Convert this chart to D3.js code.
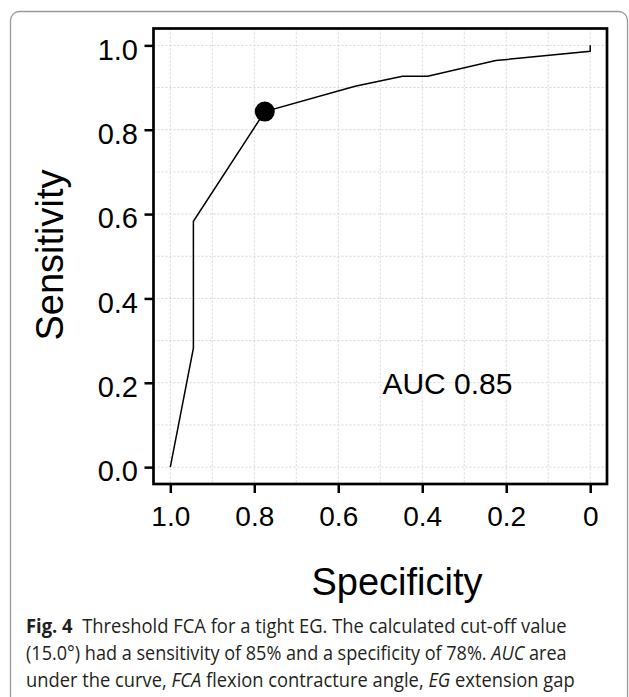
<!DOCTYPE html>
<html>
<head>
<meta charset="utf-8">
<script src="https://cdn.jsdelivr.net/npm/d3@7"></script>
<style>
  body { margin: 0; background: #fff; }
  svg { display: block; }
  .tick text { font-family: "Liberation Sans", Arial, sans-serif; fill: #000; }
  .caption { font-family: "Open Sans", "Noto Sans", sans-serif; fill: #231f20; }
</style>
</head>
<body>
<svg id="chart"></svg>
<script>
'use strict';

// ROC curve (specificity runs 1 -> 0)
const specificity = [1.0, 0.945, 0.945, 0.775, 0.56, 0.447, 0.387, 0.225, 0.0, 0.0];
const sensitivity = [0.0, 0.282, 0.583, 0.843, 0.903, 0.927, 0.927, 0.964, 0.986, 1.0];
const cutoffSpec = [0.775];
const cutoffSens = [0.843];

const xTicks = [1.0, 0.8, 0.6, 0.4, 0.2, 0];
const xTickLabels = ['1.0', '0.8', '0.6', '0.4', '0.2', '0'];
const yTicks = [0.0, 0.2, 0.4, 0.6, 0.8, 1.0];
const yTickLabels = ['0.0', '0.2', '0.4', '0.6', '0.8', '1.0'];
const gridValues = [0, 0.1, 0.2, 0.3, 0.4, 0.5, 0.6, 0.7, 0.8, 0.9, 1.0];

const aucLabel = 'AUC 0.85';
const aucPos = [0.34, 0.2];

const W = 629, H = 697;
const panel = {left: 153.5, right: 607, top: 28.5, bottom: 484};
const expand = 0.04;

const svg = d3.select('#chart')
    .attr('width', W)
    .attr('height', H);

// card frame
svg.append('rect')
    .attr('x', 10.5)
    .attr('y', 11.5)
    .attr('width', 617)
    .attr('height', 730)
    .attr('rx', 9)
    .attr('fill', 'none')
    .attr('stroke', '#9a9a9a')
    .attr('stroke-width', 1.3);

const x = d3.scaleLinear()
    .domain([1 + expand, -expand])
    .range([panel.left, panel.right]);

const y = d3.scaleLinear()
    .domain([-expand, 1 + expand])
    .range([panel.bottom, panel.top]);

// dotted grid
const grid = svg.append('g').attr('class', 'grid');
grid.selectAll('line.v')
    .data(gridValues)
  .enter().append('line')
    .attr('class', 'v')
    .attr('x1', d => x(d)).attr('x2', d => x(d))
    .attr('y1', panel.top).attr('y2', panel.bottom);
grid.selectAll('line.h')
    .data(gridValues)
  .enter().append('line')
    .attr('class', 'h')
    .attr('x1', panel.left).attr('x2', panel.right)
    .attr('y1', d => y(d)).attr('y2', d => y(d));
grid.selectAll('line')
    .attr('stroke', '#d6d6d6')
    .attr('stroke-width', 1)
    .attr('stroke-dasharray', '2,2');

// curve
const pts = specificity.map((s, i) => [s, sensitivity[i]]);
const line = d3.line()
    .x(d => x(d[0]))
    .y(d => y(d[1]));

svg.append('path')
    .datum(pts)
    .attr('d', line)
    .attr('fill', 'none')
    .attr('stroke', '#000')
    .attr('stroke-width', 1.5);

svg.selectAll('circle.cut')
    .data(cutoffSpec.map((s, i) => [s, cutoffSens[i]]))
  .enter().append('circle')
    .attr('class', 'cut')
    .attr('cx', d => x(d[0]))
    .attr('cy', d => y(d[1]))
    .attr('r', 10)
    .attr('fill', '#000');

svg.append('text')
    .attr('x', x(aucPos[0]))
    .attr('y', y(aucPos[1]))
    .attr('dy', '0.36em')
    .attr('text-anchor', 'middle')
    .attr('font-family', '"Liberation Sans", Arial, sans-serif')
    .attr('font-size', 30)
    .text(aucLabel);

// panel border
svg.append('rect')
    .attr('x', panel.left)
    .attr('y', panel.top)
    .attr('width', panel.right - panel.left)
    .attr('height', panel.bottom - panel.top)
    .attr('fill', 'none')
    .attr('stroke', '#000')
    .attr('stroke-width', 2.7);

// axes
const yAxis = d3.axisLeft(y)
    .tickValues(yTicks)
    .tickFormat((d, i) => yTickLabels[i])
    .tickSize(9)
    .tickPadding(6.5);

const gy = svg.append('g')
    .attr('transform', `translate(${panel.left}, 0)`)
    .call(yAxis);
gy.select('.domain').remove();
gy.selectAll('.tick line').attr('stroke', '#000').attr('stroke-width', 2.5);
gy.selectAll('.tick text').attr('font-size', 29).attr('dy', '0.47em');

const xAxis = d3.axisBottom(x)
    .tickValues(xTicks)
    .tickFormat((d, i) => xTickLabels[i])
    .tickSize(9)
    .tickPadding(13);

const gx = svg.append('g')
    .attr('transform', `translate(0, ${panel.bottom})`)
    .call(xAxis);
gx.select('.domain').remove();
gx.selectAll('.tick line').attr('stroke', '#000').attr('stroke-width', 2.5);
gx.selectAll('.tick text').attr('font-size', 28);

// axis titles
svg.append('text')
    .attr('x', 397)
    .attr('y', 595)
    .attr('text-anchor', 'middle')
    .attr('font-family', '"Liberation Sans", Arial, sans-serif')
    .attr('font-size', 38)
    .text('Specificity');

svg.append('text')
    .attr('transform', 'translate(63, 255) rotate(-90)')
    .attr('text-anchor', 'middle')
    .attr('font-family', '"Liberation Sans", Arial, sans-serif')
    .attr('font-size', 38)
    .text('Sensitivity');

// caption: each line squeezed horizontally to the reference width
const captionLines = [
  {y: 633, len: 541, parts: [
    {t: 'Fig. 4', w: 'bold'},
    {t: '\u00a0\u00a0Threshold FCA for a tight EG. The calculated cut-off value'}]},
  {y: 660, len: 541, parts: [
    {t: '(15.0\u00b0) had a sensitivity of 85% and a specificity of 78%. '},
    {t: 'AUC', s: 'italic'},
    {t: ' area'}]},
  {y: 687, len: 549, parts: [
    {t: 'under the curve, '},
    {t: 'FCA', s: 'italic'},
    {t: ' flexion contracture angle, '},
    {t: 'EG', s: 'italic'},
    {t: ' extension gap'}]}
];

captionLines.forEach(l => {
  const t = svg.append('text')
      .attr('class', 'caption')
      .attr('font-size', 20);
  l.parts.forEach(p => {
    t.append('tspan')
        .attr('font-weight', p.w || 'normal')
        .attr('font-style', p.s || 'normal')
        .text(p.t);
  });
  const natural = t.node().getComputedTextLength();
  t.attr('transform', `translate(26, ${l.y}) scale(${l.len / natural}, 1)`);
});
</script>
</body>
</html>
